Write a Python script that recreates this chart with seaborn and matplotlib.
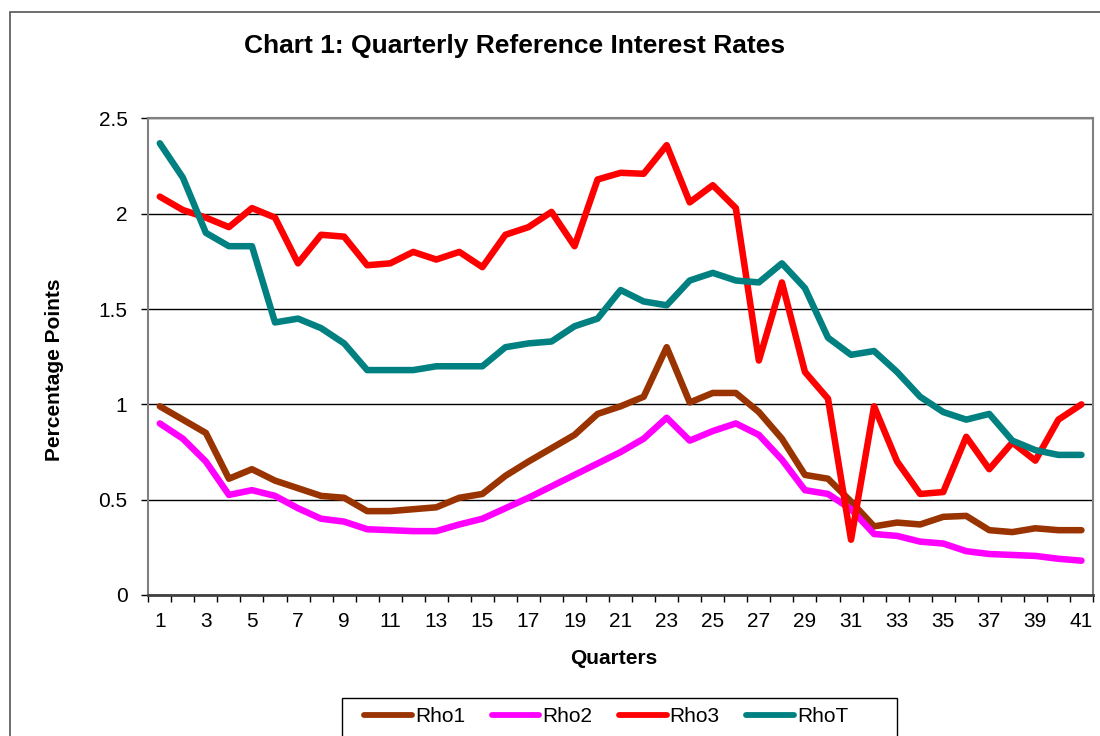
import numpy as np
import pandas as pd
import matplotlib
matplotlib.use("Agg")
import matplotlib.pyplot as plt
import seaborn as sns
from matplotlib.patches import Rectangle
from matplotlib.lines import Line2D

# Данные
quarters = list(range(1, 42))
rho1 = [0.99, 0.92, 0.85, 0.61, 0.66, 0.60, 0.56, 0.52, 0.51, 0.44, 0.44, 0.45, 0.46, 0.51,
        0.53, 0.625, 0.70, 0.77, 0.84, 0.95, 0.99, 1.04, 1.30, 1.01, 1.06, 1.06, 0.96, 0.82,
        0.63, 0.61, 0.49, 0.36, 0.38, 0.37, 0.41, 0.415, 0.34, 0.33, 0.35, 0.34, 0.34]
rho2 = [0.90, 0.82, 0.70, 0.525, 0.55, 0.52, 0.455, 0.40, 0.385, 0.345, 0.34, 0.335, 0.335, 0.37,
        0.40, 0.455, 0.51, 0.57, 0.63, 0.69, 0.75, 0.82, 0.93, 0.81, 0.86, 0.90, 0.84, 0.71,
        0.55, 0.53, 0.45, 0.32, 0.31, 0.28, 0.27, 0.23, 0.215, 0.21, 0.205, 0.19, 0.18]
rho3 = [2.09, 2.02, 1.98, 1.93, 2.03, 1.98, 1.74, 1.89, 1.88, 1.73, 1.74, 1.80, 1.76, 1.80,
        1.72, 1.89, 1.93, 2.01, 1.83, 2.18, 2.215, 2.21, 2.36, 2.06, 2.15, 2.03, 1.23, 1.64,
        1.17, 1.03, 0.29, 0.99, 0.70, 0.53, 0.54, 0.83, 0.66, 0.80, 0.705, 0.92, 1.00]
rhoT = [2.37, 2.19, 1.90, 1.83, 1.83, 1.43, 1.45, 1.40, 1.32, 1.18, 1.18, 1.18, 1.20, 1.20,
        1.20, 1.30, 1.32, 1.33, 1.41, 1.45, 1.60, 1.54, 1.52, 1.65, 1.69, 1.65, 1.64, 1.74,
        1.61, 1.35, 1.26, 1.28, 1.17, 1.04, 0.96, 0.92, 0.95, 0.81, 0.76, 0.735, 0.735]

series_names = ['Rho1', 'Rho2', 'Rho3', 'RhoT']
series_colors = ['#993300', '#FF00FF', '#FF0000', '#008080']
y_ticks = [0, 0.5, 1, 1.5, 2, 2.5]
y_tick_labels = ['0', '0.5', '1', '1.5', '2', '2.5']
x_labels = [str(q) for q in quarters[::2]]

df = pd.DataFrame({'Quarter': quarters, 'Rho1': rho1, 'Rho2': rho2, 'Rho3': rho3, 'RhoT': rhoT})
long_df = df.melt(id_vars='Quarter', var_name='Series', value_name='Rate')

sns.set_style('white')
plt.rcParams['font.family'] = ['Liberation Sans', 'DejaVu Sans']
plt.rcParams['text.color'] = 'black'
plt.rcParams['axes.labelcolor'] = 'black'
plt.rcParams['xtick.color'] = 'black'
plt.rcParams['ytick.color'] = 'black'

fig = plt.figure(figsize=(11, 7.36), dpi=100)
ax = fig.add_axes([0.1348, 0.1916, 0.8588, 0.6474])

sns.lineplot(data=long_df, x='Quarter', y='Rate', hue='Series', hue_order=series_names,
             palette=series_colors, linewidth=4.7, ax=ax, legend=False,
             solid_capstyle='round', solid_joinstyle='round')

ax.set_xlim(0.5, 41.5)
ax.set_ylim(0, 2.5)

# Сетка и оси
ax.set_yticks(y_ticks)
ax.set_yticklabels(y_tick_labels, fontsize=15)
ax.yaxis.grid(True, color='black', linewidth=1)
ax.xaxis.grid(False)
ax.tick_params(axis='y', direction='out', length=5, width=1, color='black', pad=10, left=True)

ax.set_xticks(np.arange(0.5, 42, 1))
ax.set_xticklabels([])
ax.set_xticks(quarters[::2], minor=True)
ax.set_xticklabels(x_labels, minor=True, fontsize=15)
ax.tick_params(axis='x', which='major', direction='out', length=5, width=1, color='black', bottom=True)
ax.tick_params(axis='x', which='minor', length=0, pad=12, bottom=True)

for side in ['top', 'right', 'left']:
    ax.spines[side].set_color('#808080')
    ax.spines[side].set_linewidth(1.5)
ax.spines['bottom'].set_color('#404040')
ax.spines['bottom'].set_linewidth(2)

ax.set_xlabel('')
ax.set_ylabel('')

fig.text(515 / 1100, 1 - 46 / 736, 'Chart 1: Quarterly Reference Interest Rates',
         ha='center', va='center', fontsize=19, fontweight='bold')
fig.text(55 / 1100, 1 - 370 / 736, 'Percentage Points', rotation=90,
         ha='center', va='center', fontsize=15, fontweight='bold')
fig.text(614 / 1100, 1 - 658 / 736, 'Quarters',
         ha='center', va='center', fontsize=15, fontweight='bold')

# Внешняя рамка диаграммы
fig.add_artist(Rectangle((10 / 1100, -0.1), 1.2, 1 - 12 / 736 + 0.1, transform=fig.transFigure,
                         fill=False, edgecolor='#555555', linewidth=1.2))

# Легенда
fig.add_artist(Rectangle((342 / 1100, -0.1), (897 - 342) / 1100, 1 - 698 / 736 + 0.1,
                         transform=fig.transFigure, fill=False, edgecolor='black', linewidth=1))
handles = [Line2D([0], [0], color=c, linewidth=4.2, solid_capstyle='round') for c in series_colors]
fig.legend(handles, series_names, loc='center left', bbox_to_anchor=(356 / 1100, 1 - 717 / 736),
           ncol=4, frameon=False, fontsize=15, handlelength=2.3, handletextpad=0.15,
           columnspacing=1.25, borderaxespad=0)

plt.savefig('out.png', dpi=100)
plt.close()
